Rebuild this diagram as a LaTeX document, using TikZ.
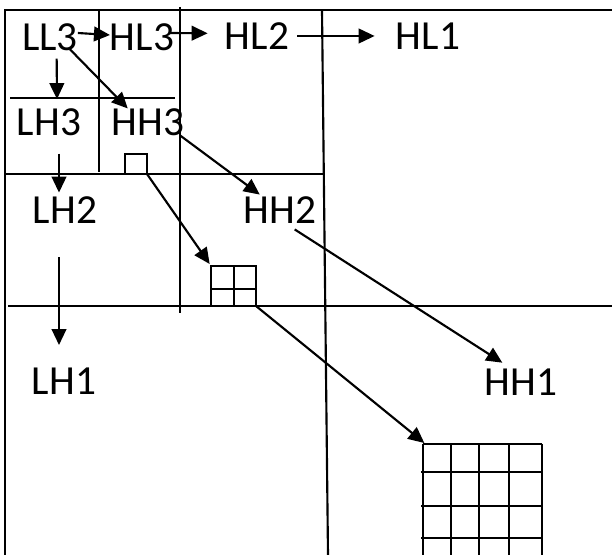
\documentclass[tikz,border=0pt]{standalone}
\usepackage{fontspec}
\setmainfont{Carlito}
\usetikzlibrary{arrows.meta}
\begin{document}
\begin{tikzpicture}[x=0.75pt,y=-0.75pt,
  lab/.style={font=\fontsize{31}{37}\selectfont, inner sep=0pt, outer sep=0pt},
  frame/.style={line width=1.6pt},
  gridline/.style={line width=1.4pt},
  arr/.style={line width=1.6pt, -{Triangle[length=12pt,width=11pt]}}]
\useasboundingbox (0,0) rectangle (612,555);
% frame lines
\draw[frame] (612,10) -- (5,10) -- (5,555);
\draw[frame] (322,10) -- (328,555);
\draw[frame] (180,7) -- (180,313);
\draw[frame] (8,306) -- (612,306);
\draw[frame] (5,174) -- (325,174);
\draw[frame] (99,10) -- (99,172);
\draw[frame] (10,98) -- (175,98);
% labels
\node[lab] (LL3) at (50,37) {LL3};
\node[lab] (HL3) at (142,37) {HL3};
\node[lab] (HL2) at (257,36) {HL2};
\node[lab] (HL1) at (428,36) {HL1};
\node[lab] (LH3) at (49,122) {LH3};
\node[lab] (HH3) at (148,122) {HH3};
\node[lab] (LH2) at (65,210) {LH2};
\node[lab] (HH2) at (280,210) {HH2};
\node[lab] (LH1) at (64,381) {LH1};
\node[lab] (HH1) at (521,382) {HH1};
% small square
\coordinate (sqbr) at (147,174);
\draw[gridline] (125,174) |- (147,154) -- (sqbr);
% 2x2 grid
\coordinate (gtwotl) at (211,266);
\coordinate (gtwobr) at (256,306);
\draw[gridline] (gtwotl) rectangle (gtwobr);
\draw[gridline] (234,266) -- (234,306);
\draw[gridline] (211,289) -- (256,289);
% 4x4 grid
\coordinate (gfourtl) at (423,444);
\foreach \xx in {423,451,479,509,542} \draw[gridline] (\xx,444) -- (\xx,555);
\draw[gridline] (423,444) -- (542,444);
\foreach \yy in {472,506,538} \draw[gridline] (421,\yy) -- (543,\yy);
% arrows
\draw[arr] ([yshift=3pt]LL3.east) -- ([yshift=1.5pt]HL3.west);
\draw[arr] ([xshift=-3pt,yshift=3pt]HL3.east) -- ([xshift=-13pt,yshift=2pt]HL2.west);
\draw[arr] ([xshift=6pt]HL2.east) -- ([xshift=-16pt]HL1.west);
\draw[arr] ([xshift=5pt,yshift=-6pt]LL3.south) -- ([xshift=6pt,yshift=7pt]LH3.north);
\draw[arr] ([xshift=-6pt,yshift=1pt]LL3.south east) -- ([xshift=12pt]HH3.north west);
\draw[arr] ([xshift=7.5pt,yshift=-13.5pt]LH3.south) -- ([xshift=-4.5pt,yshift=3pt]LH2.north);
\draw[arr] ([xshift=-3pt]HH3.south east) -- ([xshift=12pt,yshift=1.5pt]HH2.north west);
\draw[arr] (sqbr) -- ([xshift=-1pt,yshift=1.5pt]gtwotl);
\draw[arr] ([xshift=-4.5pt,yshift=-25.5pt]LH2.south) -- ([xshift=-3.75pt,yshift=17pt]LH1.north);
\draw[arr] ([xshift=11pt,yshift=-4.5pt]HH2.south) -- ([xshift=-14pt,yshift=4.5pt]HH1.north);
\draw[arr] (gtwobr) -- ([xshift=1pt,yshift=0.75pt]gfourtl);
\end{tikzpicture}
\end{document}
